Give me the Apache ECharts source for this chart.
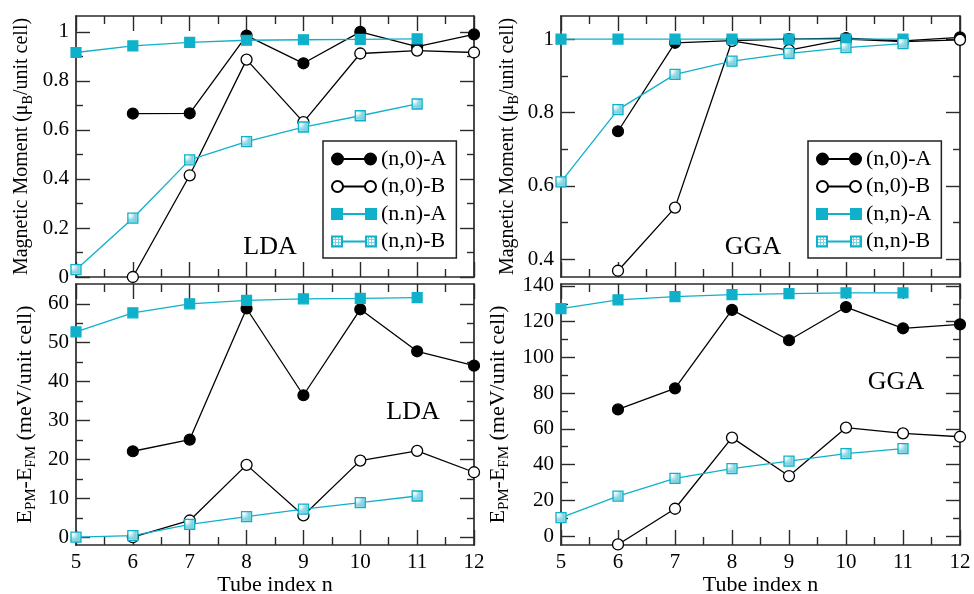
<!DOCTYPE html>
<html>
<head>
<meta charset="utf-8">
<script src="https://cdn.jsdelivr.net/npm/echarts@6/dist/echarts.min.js"></script>
<style>
  html, body { margin: 0; padding: 0; background: #fff; }
  #chart { width: 974px; height: 594px; }
</style>
</head>
<body>
<div id="chart"></div>
<script>
// tube index n on every panel
const tubeN = [5, 6, 7, 8, 9, 10, 11, 12];

// magnetic moment, LDA (mu_B / unit cell)
const ldaMomentA = [null, 0.667, 0.668, 0.985, 0.872, 1.0, 0.94, 0.99];
const ldaMomentB = [null, 0.0, 0.415, 0.887, 0.632, 0.912, 0.924, 0.916];
const ldaMomentNnA = [0.916, 0.943, 0.957, 0.966, 0.968, 0.970, 0.972, null];
const ldaMomentNnB = [0.03, 0.24, 0.478, 0.552, 0.612, 0.658, 0.706, null];

// magnetic moment, GGA
const ggaMomentA = [null, 0.749, 0.99, 0.996, 1.0, 1.003, 0.995, 1.005];
const ggaMomentB = [null, 0.369, 0.541, 0.995, 0.97, 1.0, 0.993, 0.998];
const ggaMomentNnA = [1.0, 1.0, 1.0, 1.0, 1.0, 1.0, 1.0, null];
const ggaMomentNnB = [0.611, 0.808, 0.904, 0.94, 0.961, 0.977, 0.988, null];

// E_PM - E_FM, LDA (meV / unit cell)
const ldaEnergyA = [null, 22.1, 25.1, 58.8, 36.5, 58.6, 47.8, 44.1];
const ldaEnergyB = [null, 0.0, 4.3, 18.6, 5.6, 19.7, 22.2, 16.7];
const ldaEnergyNnA = [52.8, 57.7, 60.0, 60.9, 61.3, 61.4, 61.6, null];
const ldaEnergyNnB = [0.0, 0.4, 3.3, 5.3, 7.2, 8.9, 10.6, null];

// E_PM - E_FM, GGA
const ggaEnergyA = [null, 70.9, 82.7, 126.6, 109.6, 128.2, 116.3, 118.5];
const ggaEnergyB = [null, -4.7, 15.3, 55.1, 33.6, 60.7, 57.5, 55.6];
const ggaEnergyNnA = [127.3, 132.2, 134.0, 135.1, 135.7, 136.1, 136.1, null];
const ggaEnergyNnB = [10.3, 22.4, 32.3, 37.7, 42.0, 46.1, 48.9, null];

// tick values
const xMajor = [5, 6, 7, 8, 9, 10, 11, 12];
const xMinor = [5.5, 6.5, 7.5, 8.5, 9.5, 10.5, 11.5];
const ldaMomentTicks = [0, 0.2, 0.4, 0.6, 0.8, 1];
const ldaMomentMinor = [0.1, 0.3, 0.5, 0.7, 0.9];
const ggaMomentTicks = [0.4, 0.6, 0.8, 1];
const ggaMomentMinor = [0.5, 0.7, 0.9];
const ldaEnergyTicks = [0, 10, 20, 30, 40, 50, 60];
const ldaEnergyMinor = [5, 15, 25, 35, 45, 55];
const ggaEnergyTicks = [0, 20, 40, 60, 80, 100, 120, 140];
const ggaEnergyMinor = [10, 30, 50, 70, 90, 110, 130];

const namesLeft = ['(n,0)-A', '(n,0)-B', '(n.n)-A', '(n,n)-B'];
const namesRight = ['(n,0)-A', '(n,0)-B', '(n,n)-A', '(n,n)-B'];

const FONT = 'Liberation Serif';
const TEAL = '#0fb1ca';
const AXIS = '#2a2a2a';

// little hatch pattern for the (n,n)-B squares
const hatch = document.createElement('canvas');
hatch.width = 3;
hatch.height = 3;
const hctx = hatch.getContext('2d');
hctx.fillStyle = '#7fd2e0';
hctx.fillRect(0, 0, 3, 3);
hctx.fillStyle = '#ffffff';
hctx.fillRect(1, 1, 2, 2);

const looks = [
  { symbol: 'circle', symbolSize: 11, itemStyle: { color: '#000', borderColor: '#000', borderWidth: 1.2 }, lineStyle: { color: '#000', width: 1.3 } },
  { symbol: 'circle', symbolSize: 11, itemStyle: { color: '#fff', borderColor: '#000', borderWidth: 1.3 }, lineStyle: { color: '#000', width: 1.3 } },
  { symbol: 'rect', symbolSize: 10, itemStyle: { color: TEAL, borderColor: TEAL, borderWidth: 1.2 }, lineStyle: { color: TEAL, width: 1.3 } },
  { symbol: 'rect', symbolSize: 10, itemStyle: { color: { image: hatch, repeat: 'repeat' }, borderColor: TEAL, borderWidth: 1.3 }, lineStyle: { color: TEAL, width: 1.3 } }
];

const circleIcon = 'path://M0,5.5a5.5,5.5 0 1,0 11,0a5.5,5.5 0 1,0 -11,0Z M11,5.5L33,5.5 M33,5.5a5.5,5.5 0 1,0 11,0a5.5,5.5 0 1,0 -11,0Z';
const squareIcon = 'path://M0,0.5h10v10h-10Z M10,5.5L34,5.5 M34,0.5h10v10h-10Z';
const icons = [circleIcon, circleIcon, squareIcon, squareIcon];

const grids = [
  { left: 76, top: 16, width: 398, height: 261, outerBoundsMode: 'none' },
  { left: 561, top: 16, width: 399, height: 261, outerBoundsMode: 'none' },
  { left: 76, top: 284, width: 398, height: 261, outerBoundsMode: 'none' },
  { left: 561, top: 284, width: 399, height: 261, outerBoundsMode: 'none' }
];

const momentName = '{a|Magnetic Moment (μ}{s|B}{a|/unit cell)}';
const energyName = '{a|E}{s|PM}{a|-E}{s|FM}{a| (meV/unit cell)}';
const momentRich = {
  a: { fontSize: 20, fontFamily: FONT, color: '#000', lineHeight: 26 },
  s: { fontSize: 14, fontFamily: FONT, color: '#000', lineHeight: 14, verticalAlign: 'bottom' }
};
const energyRich = {
  a: { fontSize: 22, fontFamily: FONT, color: '#000', lineHeight: 28 },
  s: { fontSize: 15, fontFamily: FONT, color: '#000', lineHeight: 15, verticalAlign: 'bottom' }
};

const panels = [
  { yMin: 0, yMax: 1.065, ticks: ldaMomentTicks, minor: ldaMomentMinor, showX: false, yName: momentName, rich: momentRich, yGap: 41, names: namesLeft, data: [ldaMomentA, ldaMomentB, ldaMomentNnA, ldaMomentNnB] },
  { yMin: 0.352, yMax: 1.063, ticks: ggaMomentTicks, minor: ggaMomentMinor, showX: false, yName: momentName, rich: momentRich, yGap: 40, names: namesRight, data: [ggaMomentA, ggaMomentB, ggaMomentNnA, ggaMomentNnB] },
  { yMin: -2, yMax: 65.1, ticks: ldaEnergyTicks, minor: ldaEnergyMinor, showX: true, yName: energyName, rich: energyRich, yGap: 37, names: namesLeft, data: [ldaEnergyA, ldaEnergyB, ldaEnergyNnA, ldaEnergyNnB] },
  { yMin: -5, yMax: 141.1, ticks: ggaEnergyTicks, minor: ggaEnergyMinor, showX: true, yName: energyName, rich: energyRich, yGap: 49, names: namesRight, data: [ggaEnergyA, ggaEnergyB, ggaEnergyNnA, ggaEnergyNnB] }
];

const xAxes = [];
const yAxes = [];
const series = [];
const lineCfg = { color: AXIS, width: 1.7 };
const tickCfg = { color: AXIS, width: 1.4 };
const labelCfg = { fontSize: 21, fontFamily: FONT, color: '#000' };

panels.forEach((p, gi) => {
  const mainX = xAxes.length;
  const mainY = yAxes.length;
  ['bottom', 'top'].forEach(pos => {
    xAxes.push({
      gridIndex: gi, type: 'value', min: 5, max: 12, position: pos,
      axisLine: { show: true, onZero: false, lineStyle: lineCfg },
      axisTick: { show: true, inside: true, length: 15, customValues: xMajor, lineStyle: tickCfg },
      axisLabel: { show: p.showX && pos === 'bottom', customValues: xMajor, margin: 7, ...labelCfg },
      splitLine: { show: false },
      name: p.showX && pos === 'bottom' ? 'Tube index n' : '',
      nameLocation: 'middle', nameGap: 28,
      nameTextStyle: { fontSize: 22, fontFamily: FONT, color: '#000' }
    });
    xAxes.push({
      gridIndex: gi, type: 'value', min: 5, max: 12, position: pos,
      axisLine: { show: false, onZero: false },
      axisTick: { show: true, inside: true, length: 8, customValues: xMinor, lineStyle: tickCfg },
      axisLabel: { show: false },
      splitLine: { show: false }
    });
  });
  ['left', 'right'].forEach(pos => {
    yAxes.push({
      gridIndex: gi, type: 'value', min: p.yMin, max: p.yMax, position: pos,
      axisLine: { show: true, onZero: false, lineStyle: lineCfg },
      axisTick: { show: true, inside: true, length: 14, customValues: p.ticks, lineStyle: tickCfg },
      axisLabel: { show: pos === 'left', customValues: p.ticks, margin: 7, ...labelCfg },
      splitLine: { show: false },
      name: pos === 'left' ? p.yName : '',
      nameLocation: 'middle', nameRotate: 90, nameGap: p.yGap,
      nameTextStyle: { color: '#000', fontFamily: FONT, rich: p.rich }
    });
    yAxes.push({
      gridIndex: gi, type: 'value', min: p.yMin, max: p.yMax, position: pos,
      axisLine: { show: false, onZero: false },
      axisTick: { show: true, inside: true, length: 7, customValues: p.minor, lineStyle: tickCfg },
      axisLabel: { show: false },
      splitLine: { show: false }
    });
  });

  p.data.forEach((vals, si) => {
    series.push({
      name: p.names[si],
      type: 'line',
      xAxisIndex: mainX,
      yAxisIndex: mainY,
      data: tubeN.map((n, i) => [n, vals[i]]).filter(d => d[1] !== null),
      clip: false,
      ...looks[si]
    });
  });
});

const legendBase = {
  orient: 'vertical',
  top: 141,
  itemWidth: 44,
  itemHeight: 11,
  itemGap: 5.5,
  symbolKeepAspect: true,
  padding: [7, 10, 5.5, 8],
  borderColor: '#222',
  borderWidth: 1.5,
  backgroundColor: '#fff',
  selectedMode: false,
  textStyle: { fontSize: 22, fontFamily: FONT, color: '#000' }
};

const option = {
  animation: false,
  backgroundColor: '#fff',
  textStyle: { fontFamily: FONT },
  grid: grids,
  xAxis: xAxes,
  yAxis: yAxes,
  legend: [
    { ...legendBase, left: 323, data: namesLeft.map((n, i) => ({ name: n, icon: icons[i] })) },
    { ...legendBase, left: 808, data: namesRight.map((n, i) => ({ name: n, icon: icons[i] })) }
  ],
  graphic: [
    { type: 'text', x: 270, y: 247, style: { text: 'LDA', fontSize: 26, fontFamily: FONT, fill: '#000', align: 'center', verticalAlign: 'middle' } },
    { type: 'text', x: 753, y: 247, style: { text: 'GGA', fontSize: 26, fontFamily: FONT, fill: '#000', align: 'center', verticalAlign: 'middle' } },
    { type: 'text', x: 413, y: 412, style: { text: 'LDA', fontSize: 26, fontFamily: FONT, fill: '#000', align: 'center', verticalAlign: 'middle' } },
    { type: 'text', x: 896, y: 382, style: { text: 'GGA', fontSize: 26, fontFamily: FONT, fill: '#000', align: 'center', verticalAlign: 'middle' } }
  ],
  series: series
};

const chart = echarts.init(document.getElementById('chart'));
chart.setOption(option);
</script>
</body>
</html>
